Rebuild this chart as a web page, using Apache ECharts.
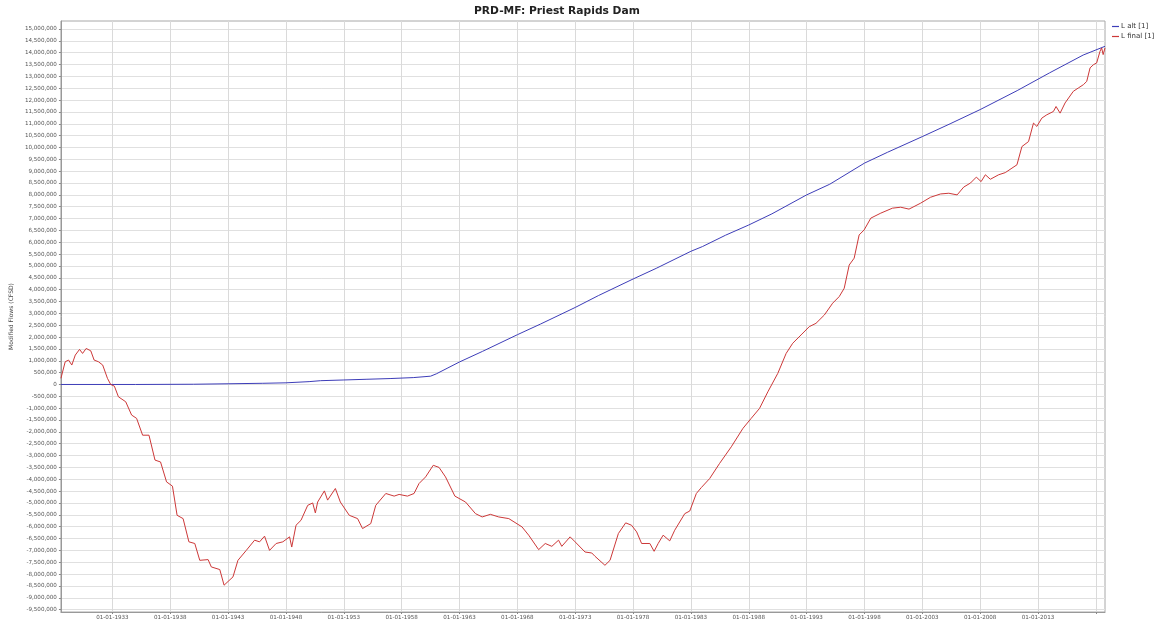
<!DOCTYPE html>
<html><head><meta charset="utf-8">
<script src="https://cdn.jsdelivr.net/npm/echarts@6/dist/echarts.min.js"></script>
<style>html,body{margin:0;padding:0;background:#fff}#c{width:1156px;height:624px}</style>
</head><body><div id="c"></div>
<script>
const titleText = 'PRD-MF: Priest Rapids Dam';
const yAxisName = 'Modified Flows (CFSD)';
const seriesNames = ['L alt [1]', 'L final [1]'];

const xMinYear = 1928.55;
const xMaxYear = 2018.79;
const yMinValue = -9601000;
const yMaxValue = 15338000;

const xTickYears = [1933,1938,1943,1948,1953,1958,1963,1968,1973,1978,1983,1988,1993,1998,2003,2008,2013,2018];
const xLabelYears = [1933,1938,1943,1948,1953,1958,1963,1968,1973,1978,1983,1988,1993,1998,2003,2008,2013];
const yTickValues = [];
for (let v = -9500000; v <= 15000000; v += 500000) yTickValues.push(v);

// L alt [1]  (decimal year, CFSD)
const altYears = [1928.55,1935,1940,1943,1946,1948,1950,1951,1953,1955,1957,1959,1960.5,1961,1962,1963,1965,1968,1970,1973,1975,1978,1980,1983,1984,1986,1988,1990,1993,1995,1998,2000,2003,2005.4,2008,2011.2,2014,2016.9,2018.79];
const altValues = [0,0,10000,30000,50000,70000,120000,160000,190000,220000,250000,290000,350000,450000,700000,950000,1400000,2100000,2550000,3250000,3750000,4450000,4900000,5620000,5820000,6300000,6730000,7200000,8000000,8450000,9340000,9800000,10460000,11000000,11600000,12400000,13150000,13900000,14270000];

// L final [1]
const finalYears = [1928.55,1928.92,1929.21,1929.49,1929.79,1930.16,1930.42,1930.73,1931.13,1931.42,1931.79,1932.16,1932.57,1932.85,1933.17,1933.52,1934.15,1934.66,1935.09,1935.61,1936.16,1936.68,1937.16,1937.68,1938.19,1938.59,1939.11,1939.61,1940.12,1940.55,1941.27,1941.55,1942.28,1942.65,1943.42,1943.85,1944.57,1945.29,1945.72,1946.15,1946.58,1947.15,1947.73,1948.31,1948.50,1948.87,1949.30,1949.88,1950.31,1950.54,1950.74,1951.32,1951.60,1952.27,1952.70,1953.47,1954.19,1954.62,1955.33,1955.76,1956.63,1957.35,1957.78,1958.50,1959.07,1959.50,1960.07,1960.73,1961.23,1961.79,1962.60,1963.52,1964.38,1964.96,1965.67,1966.39,1967.26,1968.40,1968.98,1969.84,1970.41,1970.98,1971.56,1971.84,1972.56,1972.99,1973.85,1974.43,1974.71,1975.57,1976.01,1976.73,1977.36,1977.87,1978.31,1978.74,1979.45,1979.82,1980.17,1980.60,1981.17,1981.60,1982.47,1982.90,1983.47,1983.90,1984.62,1985.48,1986.49,1987.50,1988.21,1988.93,1989.65,1990.51,1991.23,1991.80,1992.52,1993.23,1993.81,1994.53,1995.25,1995.82,1996.25,1996.68,1997.11,1997.54,1997.97,1998.55,1999.41,2000.42,2001.13,2001.85,2002.85,2003.71,2004.58,2005.29,2006.01,2006.58,2007.16,2007.67,2008.08,2008.45,2008.88,2009.60,2010.17,2010.75,2011.18,2011.61,2012.18,2012.61,2012.90,2013.33,2013.76,2014.33,2014.56,2014.91,2015.34,2016.05,2016.48,2016.92,2017.21,2017.50,2017.78,2018.07,2018.36,2018.50,2018.63,2018.79];
const finalValues = [260000,960000,1030000,820000,1240000,1480000,1310000,1520000,1420000,1030000,960000,820000,260000,0,-70000,-520000,-730000,-1290000,-1430000,-2140000,-2140000,-3190000,-3270000,-4110000,-4290000,-5520000,-5660000,-6640000,-6710000,-7420000,-7390000,-7700000,-7810000,-8470000,-8120000,-7420000,-7000000,-6570000,-6640000,-6400000,-7000000,-6710000,-6640000,-6430000,-6860000,-5940000,-5730000,-5100000,-5000000,-5420000,-4960000,-4490000,-4880000,-4390000,-4960000,-5520000,-5660000,-6080000,-5870000,-5100000,-4600000,-4710000,-4640000,-4710000,-4600000,-4180000,-3900000,-3410000,-3500000,-3900000,-4710000,-4960000,-5450000,-5590000,-5480000,-5590000,-5660000,-6010000,-6360000,-6970000,-6710000,-6830000,-6570000,-6830000,-6430000,-6640000,-7070000,-7110000,-7250000,-7630000,-7420000,-6290000,-5840000,-5940000,-6220000,-6710000,-6710000,-7040000,-6710000,-6360000,-6600000,-6150000,-5450000,-5340000,-4600000,-4350000,-3970000,-3330000,-2630000,-1850000,-1430000,-1010000,-310000,470000,1310000,1740000,2090000,2440000,2580000,2930000,3430000,3710000,4060000,5040000,5330000,6310000,6520000,7020000,7230000,7440000,7480000,7400000,7650000,7900000,8040000,8070000,8000000,8330000,8500000,8750000,8560000,8850000,8660000,8850000,8940000,9130000,9270000,10040000,10250000,11030000,10890000,11240000,11380000,11520000,11730000,11450000,11880000,12370000,12510000,12650000,12790000,13360000,13490000,13570000,14060000,14200000,13920000,14200000];

const altData = altYears.map((y, i) => [y, altValues[i]]);
const finalData = finalYears.map((y, i) => [y, finalValues[i]]);

const FONT = 'DejaVu Sans';
const chart = echarts.init(document.getElementById('c'), null, {renderer: 'canvas'});
chart.setOption({
  animation: false,
  backgroundColor: '#ffffff',
  title: {
    text: titleText, left: 474, top: 6, padding: 0,
    textStyle: {fontFamily: FONT, fontSize: 10.7, fontWeight: 'bold', color: '#222'}
  },
  legend: {
    orient: 'vertical', left: 1112, top: 23, itemGap: 3, padding: 0,
    icon: 'rect', itemWidth: 7, itemHeight: 1.2,
    textStyle: {fontFamily: FONT, fontSize: 7, color: '#333', padding: [0, 0, 0, -3]},
    data: seriesNames
  },
  grid: {
    left: 57, top: 21, width: 1048, height: 591, containLabel: false,
    show: true, borderColor: '#a8a8a8', borderWidth: 1, backgroundColor: '#fff'
  },
  xAxis: {
    type: 'value', min: xMinYear, max: xMaxYear,
    axisLine: {show: true, onZero: false, lineStyle: {color: '#999'}},
    axisTick: {show: true, length: 2, inside: false, customValues: xTickYears, lineStyle: {color: '#888'}},
    axisLabel: {
      customValues: xLabelYears, margin: 3, fontFamily: FONT, fontSize: 5.6, color: '#555',
      formatter: v => '01-01-' + v
    },
    splitLine: {show: true, lineStyle: {color: '#dadada', width: 1}}
  },
  yAxis: {
    type: 'value', min: yMinValue, max: yMaxValue,
    name: yAxisName, nameLocation: 'middle', nameGap: 41,
    nameTextStyle: {fontFamily: FONT, fontSize: 6, color: '#444'},
    axisLine: {show: true, onZero: false, lineStyle: {color: '#999'}},
    axisTick: {show: true, length: 2, customValues: yTickValues, lineStyle: {color: '#888'}},
    axisLabel: {
      customValues: yTickValues, margin: 4, fontFamily: FONT, fontSize: 5.6, color: '#555',
      formatter: v => v.toLocaleString('en-US')
    },
    splitLine: {show: true, lineStyle: {color: '#e0e0e0', width: 1}}
  },
  series: [
    {name: seriesNames[0], type: 'line', data: altData, showSymbol: false, symbol: 'none',
     lineStyle: {color: '#3d3db8', width: 1}, itemStyle: {color: '#3d3db8'}},
    {name: seriesNames[1], type: 'line', data: finalData, showSymbol: false, symbol: 'none',
     lineStyle: {color: '#cc3838', width: 1}, itemStyle: {color: '#cc3838'}}
  ]
});
</script></body></html>
